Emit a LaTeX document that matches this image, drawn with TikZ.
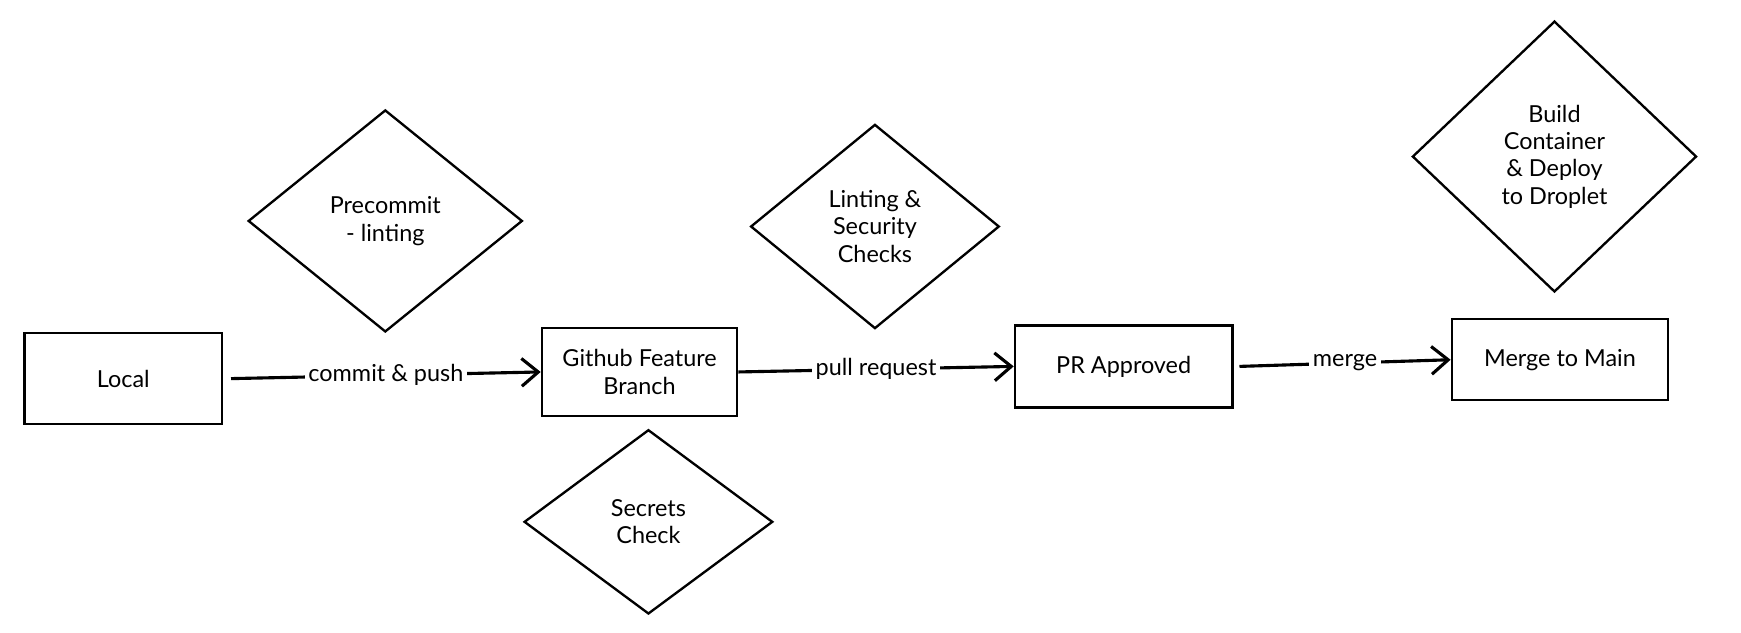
\documentclass[tikz,border=0pt]{standalone}
\usepackage{fontspec}
\setmainfont{Lato}
\usetikzlibrary{shapes.geometric,arrows.meta}
\tikzset{
  stage/.style={draw, line width=1.2pt, align=center, font=\large},
  check/.style={draw, shape=diamond, line width=1.2pt, align=center, font=\large, inner sep=0pt},
  flow/.style={line width=1.6pt, -{Straight Barb[length=3mm,width=5mm]}},
  lbl/.style={fill=white, font=\large, inner sep=2pt}
}
\begin{document}
\begin{tikzpicture}[x=0.02cm, y=-0.02cm]
  \useasboundingbox (0,0) rectangle (1568,570);
  \node[stage, minimum width=3.56cm, minimum height=1.64cm] (LC) at (111,341) {Local};
  \node[stage, minimum width=3.52cm, minimum height=1.58cm] (GB) at (576,335) {Github Feature\\Branch};
  \node[stage, minimum width=3.92cm, minimum height=1.48cm] (PR) at (1012,330) {PR Approved};
  \node[stage, minimum width=3.9cm, minimum height=1.46cm] (MM) at (1405,324) {Merge to Main};

  \node[check, minimum width=4.94cm, minimum height=4cm] (PC) at (347,199) {Precommit\\- linting};
  \node[check, minimum width=4.48cm, minimum height=3.68cm] (LS) at (788,204) {Linting \&\\Security\\Checks};
  \node[check, minimum width=5.12cm, minimum height=4.88cm] (BD) at (1400,141) {Build\\Container\\\& Deploy\\to Droplet};
  \node[check, minimum width=4.48cm, minimum height=3.32cm] (SC) at (584,470) {Secrets\\Check};

  \draw[flow] ([xshift=4pt]LC.east) -- node[lbl] {commit \& push} (GB.west);
  \draw[flow] (GB.east) -- node[lbl] {pull request} (PR.west);
  \draw[flow] ([xshift=3pt]PR.east) -- node[lbl] {merge} (MM.west);
\end{tikzpicture}
\end{document}
